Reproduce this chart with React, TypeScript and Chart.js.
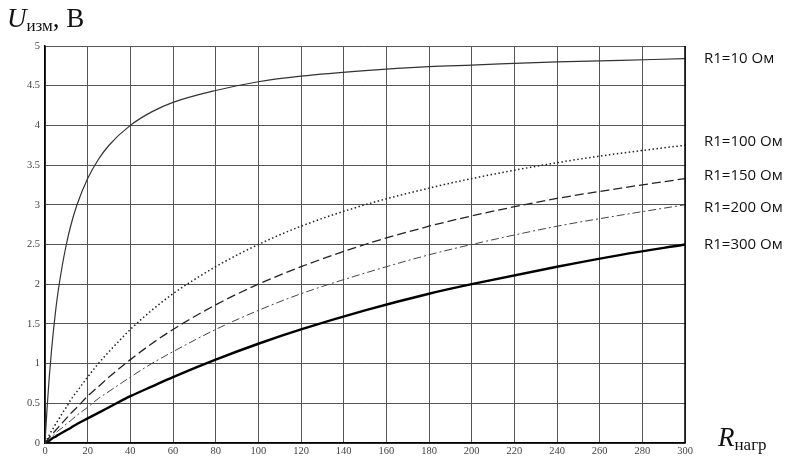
import React, { useEffect, useRef } from "react";
import { Chart, registerables } from "chart.js";

Chart.register(...registerables);

const rLoad = [0, 1, 2, 3, 4, 5, 6, 8, 10, 12, 15, 20, 25, 30, 40, 50, 60, 80, 100, 120, 150, 180, 200, 240, 270, 300];
const u10 = [0, 0.45, 0.83, 1.15, 1.43, 1.67, 1.88, 2.22, 2.5, 2.73, 3.0, 3.33, 3.57, 3.75, 4.0, 4.17, 4.29, 4.44, 4.55, 4.62, 4.69, 4.74, 4.76, 4.8, 4.82, 4.84];
const u100 = [0, 0.05, 0.1, 0.15, 0.19, 0.24, 0.28, 0.37, 0.45, 0.54, 0.65, 0.83, 1.0, 1.15, 1.43, 1.67, 1.88, 2.22, 2.5, 2.73, 3.0, 3.21, 3.33, 3.53, 3.65, 3.75];
const u150 = [0, 0.03, 0.07, 0.1, 0.13, 0.16, 0.19, 0.25, 0.31, 0.37, 0.45, 0.59, 0.71, 0.83, 1.05, 1.25, 1.43, 1.74, 2.0, 2.22, 2.5, 2.73, 2.86, 3.08, 3.21, 3.33];
const u200 = [0, 0.02, 0.05, 0.07, 0.1, 0.12, 0.15, 0.19, 0.24, 0.28, 0.35, 0.45, 0.56, 0.65, 0.83, 1.0, 1.15, 1.43, 1.67, 1.88, 2.14, 2.37, 2.5, 2.73, 2.87, 3.0];
const u300 = [0, 0.02, 0.03, 0.05, 0.07, 0.08, 0.1, 0.13, 0.16, 0.19, 0.24, 0.31, 0.38, 0.45, 0.59, 0.71, 0.83, 1.05, 1.25, 1.43, 1.67, 1.88, 2.0, 2.22, 2.37, 2.5];
const seriesLabels = ["R1=10 Ом", "R1=100 Ом", "R1=150 Ом", "R1=200 Ом", "R1=300 Ом"];
const labelOffsets = [0, -4, -3, 3, 0];

const pts = (ys: number[]) => rLoad.map((x, i) => ({ x, y: ys[i] }));

const endLabels = {
  id: "endLabels",
  afterDraw(chart: any) {
    const ctx = chart.ctx;
    ctx.save();
    ctx.font = "15px 'Open Sans', 'Noto Sans', sans-serif";
    ctx.fillStyle = "#111";
    ctx.textBaseline = "middle";
    ctx.textAlign = "left";
    chart.data.datasets.forEach((ds: any, i: number) => {
      const last = ds.data[ds.data.length - 1];
      const y = chart.scales.y.getPixelForValue(last.y) + labelOffsets[i];
      ctx.fillText(seriesLabels[i], 704, y);
    });
    ctx.restore();
  },
};

export default function App() {
  const ref = useRef<HTMLCanvasElement>(null);
  useEffect(() => {
    const mk = (data: number[], color: string, width: number, dash: number[]) => ({
      data: pts(data),
      borderColor: color,
      borderWidth: width,
      borderDash: dash,
      pointRadius: 0,
      fill: false,
      cubicInterpolationMode: "monotone" as const,
    });
    const chart = new Chart(ref.current!, {
      type: "line",
      data: {
        datasets: [
          mk(u10, "#333", 1.2, []),
          mk(u100, "#222", 1.5, [1.5, 2.5]),
          mk(u150, "#222", 1.3, [9, 4]),
          mk(u200, "#444", 1, [8, 3, 2, 3]),
          mk(u300, "#000", 2.4, []),
        ],
      },
      options: {
        animation: false,
        responsive: false,
        layout: { padding: { top: 46, right: 114, left: 0, bottom: 0 } },
        plugins: { legend: { display: false }, tooltip: { enabled: false } },
        scales: {
          x: {
            type: "linear",
            min: 0,
            max: 300,
            afterFit: (s: any) => { s.height = 19; },
            ticks: {
              stepSize: 20,
              color: "#444",
              font: { family: "'Liberation Serif', 'Times New Roman', serif", size: 10.5 },
              padding: 2,
              maxRotation: 0,
            },
            grid: { color: "#555", lineWidth: 1, drawTicks: false },
            border: { color: "#000", width: 1.5 },
          },
          y: {
            type: "linear",
            min: 0,
            max: 5,
            afterFit: (s: any) => { s.width = 45; },
            ticks: {
              stepSize: 0.5,
              color: "#444",
              font: { family: "'Liberation Serif', 'Times New Roman', serif", size: 10.5 },
              padding: 5,
              callback: (v: any) => String(v),
            },
            grid: { color: "#555", lineWidth: 1, drawTicks: false },
            border: { color: "#000", width: 1.5 },
          },
        },
      },
      plugins: [
        endLabels,
        {
          id: "frame",
          afterDraw(chart: any) {
            const { right, top, bottom } = chart.chartArea;
            const ctx = chart.ctx;
            ctx.save();
            ctx.strokeStyle = "#000";
            ctx.lineWidth = 1.5;
            ctx.beginPath();
            ctx.moveTo(right, top);
            ctx.lineTo(right, bottom);
            ctx.stroke();
            ctx.restore();
          },
        },
      ],
    });
    return () => chart.destroy();
  }, []);

  const serif = "'Liberation Serif', 'Times New Roman', serif";
  return (
    <div style={{ position: "fixed", left: 0, top: 0, width: 799, height: 462, background: "#fff" }}>
      <canvas ref={ref} width={799} height={462} style={{ position: "absolute", left: 0, top: 0 }} />
      <div style={{ position: "absolute", left: 7, top: 2, fontFamily: serif, fontSize: 27, color: "#111", whiteSpace: "nowrap", lineHeight: "32px" }}>
        <i>U</i>
        <sub style={{ fontSize: 17, verticalAlign: "-4px" }}>изм</sub>
        <span>, B</span>
      </div>
      <div style={{ position: "absolute", left: 718, top: 421, fontFamily: serif, fontSize: 27, color: "#111", whiteSpace: "nowrap", lineHeight: "32px" }}>
        <i>R</i>
        <sub style={{ fontSize: 17, verticalAlign: "-4px" }}>нагр</sub>
      </div>
    </div>
  );
}
